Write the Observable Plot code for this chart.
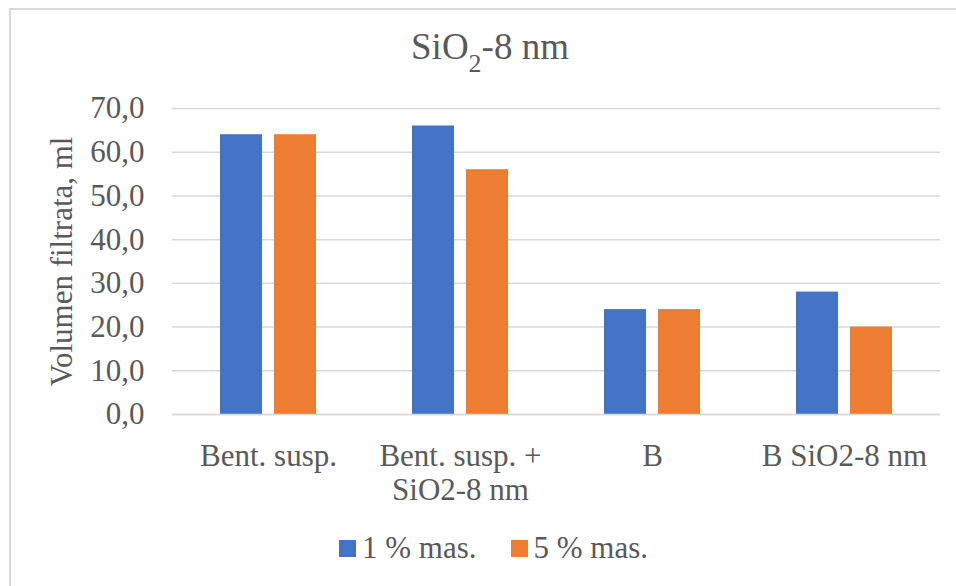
<!DOCTYPE html>
<html><head><meta charset="utf-8">
<script src="https://cdn.jsdelivr.net/npm/d3@7"></script>
<script src="https://cdn.jsdelivr.net/npm/@observablehq/plot@0.6"></script>
<style>
html,body{margin:0;padding:0;background:#fff;overflow:hidden;width:956px;height:586px;position:relative}
#frame{position:absolute;left:9px;top:8px;width:1000px;height:1000px;border:2px solid #d9d9d9;box-sizing:border-box}
#title{position:absolute;left:0;top:28px;width:980px;text-align:center;font-family:"Liberation Serif","Times New Roman",serif;font-size:37px;line-height:1;color:#595959;white-space:nowrap}
#title .sub{font-size:26px;position:relative;top:13px}
#chart{position:absolute;left:0;top:90px}
#chart svg text{font-family:"Liberation Serif","Times New Roman",serif !important}
#legend{position:absolute;left:0;top:532px;width:987px;display:flex;justify-content:center;align-items:center;height:31px;font-family:"Liberation Serif","Times New Roman",serif;font-size:31px;line-height:31px;color:#595959;white-space:nowrap}
#legend .sw{display:inline-block;width:17px;height:17px;margin-right:6px;position:relative;top:1px}
#legend .item{display:flex;align-items:center}
#legend .item + .item{margin-left:34px}
</style></head>
<body>
<div id="frame"></div>
<div id="title">SiO<span class="sub">2</span>-8 nm</div>
<div id="chart"></div>
<div id="legend"></div>
<script>
const categories = ["Bent. susp.", "Bent. susp. +\nSiO2-8 nm", "B", "B SiO2-8 nm"];
const series = ["1 % mas.", "5 % mas."];
const values1 = [64, 66, 24, 28];
const values5 = [64, 56, 24, 20];
const colors = ["#4472C4", "#ED7D31"];
const yTicks = [0, 10, 20, 30, 40, 50, 60, 70];
const yLabel = "Volumen filtrata, ml";

const data = categories.flatMap((c, i) => [
  {cat: c, s: series[0], v: values1[i]},
  {cat: c, s: series[1], v: values5[i]}
]);

const serif = "Liberation Serif, Times New Roman, serif";

const chart = Plot.plot({
  width: 956, height: 440,
  marginLeft: 172, marginRight: 16, marginTop: 18, marginBottom: 116,
  style: {fontFamily: serif, fontSize: "31px", color: "#595959", background: "transparent"},
  fx: {domain: categories, padding: 0, label: null},
  x: {domain: series, paddingInner: 12 / 54, paddingOuter: 0.889, axis: null, round: false},
  y: {domain: [0, 70], label: null},
  color: {domain: series, range: colors},
  marks: [
    Plot.gridY(yTicks, {stroke: "#d9d9d9", strokeOpacity: 1, strokeWidth: 1.5}),
    Plot.barY(data, {fx: "cat", x: "s", y: "v", fill: "s"}),
    Plot.ruleY([0], {stroke: "#d9d9d9", strokeWidth: 1.5}),
    Plot.axisY(yTicks, {
      tickSize: 0, tickPadding: 28, fontSize: 31, fontFamily: serif, fontVariant: "normal", fill: "#595959",
      tickFormat: d => d.toFixed(1).replace(".", ","),
      label: yLabel, labelAnchor: "center", labelArrow: "none", labelOffset: 123
    }),
    Plot.axisFx({anchor: "bottom", tickSize: 0, tickPadding: 27, fontSize: 31, fontFamily: serif, lineHeight: 1.1, label: null, fill: "#595959"})
  ]
});
document.getElementById("chart").appendChild(chart);

const legend = document.getElementById("legend");
series.forEach((s, i) => {
  const item = document.createElement("div");
  item.className = "item";
  const sw = document.createElement("span");
  sw.className = "sw";
  sw.style.background = colors[i];
  const t = document.createElement("span");
  t.textContent = s;
  item.appendChild(sw);
  item.appendChild(t);
  legend.appendChild(item);
});
</script>
</body></html>
